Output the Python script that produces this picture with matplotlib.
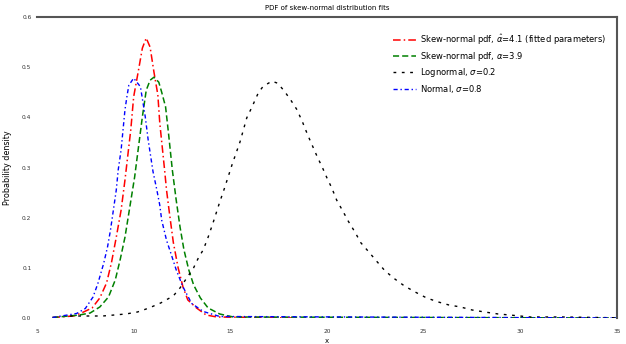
import matplotlib
matplotlib.use("Agg")
import matplotlib.pyplot as plt

# ---- data ----
black_x = [6.7, 7.7, 8.4, 9.6, 10.2, 10.8, 11.4, 12.05, 12.4, 12.75, 13.1, 13.35, 13.6, 13.85,
           14.1, 14.45, 14.7, 15.1, 15.5, 15.85, 16.1, 16.45, 16.7, 17.15, 17.45, 17.8, 18.15,
           18.45, 18.75, 19.0, 19.25, 19.5, 19.75, 20.0, 20.25, 20.5, 20.85, 21.1, 21.45, 21.75,
           22.2, 22.55, 23.0, 23.5, 24.0, 24.55, 25.15, 25.75, 26.3, 26.9, 27.5, 28.15, 28.85,
           29.45, 30.5, 32.2, 34.0, 34.9]
black_y = [0.004, 0.004, 0.004, 0.008, 0.012, 0.020, 0.030, 0.044, 0.060, 0.080, 0.100, 0.120,
           0.136, 0.161, 0.189, 0.231, 0.259, 0.307, 0.351, 0.399, 0.419, 0.449, 0.462, 0.472,
           0.468, 0.452, 0.433, 0.415, 0.389, 0.365, 0.343, 0.321, 0.301, 0.279, 0.259, 0.235,
           0.211, 0.193, 0.171, 0.150, 0.130, 0.114, 0.094, 0.078, 0.064, 0.052, 0.040, 0.032,
           0.026, 0.022, 0.016, 0.012, 0.008, 0.006, 0.002, 0.002, 0.001, 0.0005]

red_x = [5.8, 6.9, 7.3, 7.85, 8.25, 8.6, 8.85, 9.1, 9.35, 9.55, 9.7, 9.85, 10.0, 10.25, 10.45,
         10.65, 10.85, 11.05, 11.25, 11.35, 11.6, 11.7, 11.85, 12.05, 12.3, 12.55, 12.8, 13.25,
         13.75, 14.3, 18.6]
red_y = [0.001, 0.004, 0.010, 0.020, 0.040, 0.070, 0.110, 0.161, 0.215, 0.275, 0.325, 0.375,
         0.441, 0.494, 0.538, 0.558, 0.540, 0.490, 0.445, 0.389, 0.295, 0.255, 0.209, 0.151,
         0.100, 0.062, 0.036, 0.020, 0.006, 0.002, 0.0]

green_x = [5.8, 7.2, 7.75, 8.25, 8.7, 9.05, 9.3, 9.55, 9.8, 10.05, 10.25, 10.45, 10.65, 10.85,
           11.05, 11.3, 11.45, 11.65, 11.8, 12.0, 12.2, 12.4, 12.6, 12.85, 13.1, 13.45, 13.85,
           14.45, 15.15, 35.0]
green_y = [0.001, 0.006, 0.010, 0.022, 0.042, 0.076, 0.116, 0.161, 0.221, 0.281, 0.341, 0.401,
           0.454, 0.474, 0.480, 0.470, 0.450, 0.421, 0.369, 0.295, 0.235, 0.181, 0.136, 0.096,
           0.066, 0.040, 0.020, 0.008, 0.002, 0.0]

blue_x = [5.8, 7.05, 7.5, 7.9, 8.15, 8.45, 8.65, 8.8, 8.95, 9.1, 9.2, 9.35, 9.45, 9.55, 9.65,
          9.75, 10.0, 10.35, 10.6, 10.75, 11.0, 11.2, 11.35, 11.45, 11.7, 11.95, 12.2, 12.55,
          13.0, 13.6, 14.45, 35.0]
blue_y = [0.001, 0.009, 0.019, 0.042, 0.069, 0.109, 0.142, 0.175, 0.215, 0.255, 0.295, 0.335,
          0.375, 0.415, 0.441, 0.464, 0.478, 0.461, 0.401, 0.355, 0.292, 0.255, 0.225, 0.195,
          0.155, 0.126, 0.096, 0.062, 0.029, 0.013, 0.003, 0.0]

labels = [r"Skew-normal pdf, $\hat\alpha$=4.1 (fitted parameters)",
          r"Skew-normal pdf, $\alpha$=3.9",
          r"Lognormal, $\sigma$=0.2",
          r"Normal, $\sigma$=0.8"]
title = "PDF of skew-normal distribution fits"
xlabel = "x"
ylabel = "Probability density"
xticks = [5, 10, 15, 20, 25, 30, 35]
yticks = [0.0, 0.1, 0.2, 0.3, 0.4, 0.5, 0.6]

fig = plt.figure(figsize=(6.26, 3.44), dpi=100)
ax = fig.add_axes([37/626, 26/344, 580/626, 301/344])

ax.plot(red_x, red_y, color="red", ls=(0, (5, 2, 1, 2)), lw=1.1, label=labels[0])
ax.plot(green_x, green_y, color="green", ls=(0, (4, 2)), lw=1.1, label=labels[1])
ax.plot(black_x, black_y, color="black", ls=(0, (2, 4)), lw=1.0, label=labels[2])
ax.plot(blue_x, blue_y, color="blue", ls=(0, (3, 2, 1, 2)), lw=1.0, label=labels[3])

ax.set_xlim(5, 35)
ax.set_ylim(0, 0.6)
ax.set_xticks(xticks)
ax.set_yticks(yticks)
ax.tick_params(labelsize=4.2, length=0, colors="#333333")
ax.tick_params(axis="x", pad=8)
ax.tick_params(axis="y", pad=4)
ax.set_title(title, fontsize=5, pad=5)
ax.set_xlabel(xlabel, fontsize=5, labelpad=3)
ax.set_ylabel(ylabel, fontsize=5.8, labelpad=7)

for s in ["left", "bottom"]:
    ax.spines[s].set_visible(False)
for s in ["top", "right"]:
    ax.spines[s].set_color("#555555")
    ax.spines[s].set_linewidth(1.5)

leg = ax.legend(loc="upper right", fontsize=6, frameon=False, handlelength=2.8,
                handletextpad=0.5, labelspacing=0.4, bbox_to_anchor=(0.995, 0.975))

fig.savefig("out.png", dpi=100)
